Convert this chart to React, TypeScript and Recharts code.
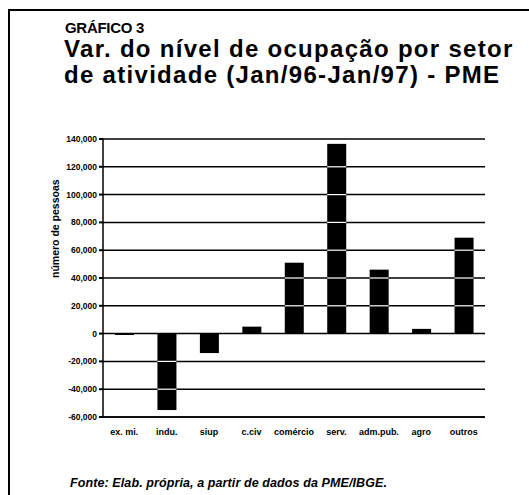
import React from 'react';
import { BarChart, Bar, XAxis, YAxis, CartesianGrid } from 'recharts';

// setores de atividade (eixo x)
const setores = ['ex. mi.', 'indu.', 'siup', 'c.civ', 'comércio', 'serv.', 'adm.pub.', 'agro', 'outros'];
// variação do nível de ocupação, Jan/96-Jan/97
const variacao = [-1000, -55000, -14000, 5000, 51000, 136500, 46000, 3400, 69000];
const yTicks = [-60000, -40000, -20000, 0, 20000, 40000, 60000, 80000, 100000, 120000, 140000];

const data = setores.map((s, i) => ({ setor: s, valor: variacao[i] }));

const font = '"Liberation Sans", Arial, sans-serif';

const lerValor = (props: any): number => {
    if (props.payload && typeof props.payload.valor === 'number') return props.payload.valor;
    if (Array.isArray(props.value)) return props.value[1] - props.value[0];
    if (typeof props.value === 'number') return props.value;
    if (typeof props.valor === 'number') return props.valor;
    if (typeof props.index === 'number') return variacao[props.index];
    return 0;
};

// barra preta com as linhas da grade passando em branco por cima
const BarraComGrade = (props: any) => {
    const x = Number(props.x);
    const y = Number(props.y);
    const width = Number(props.width);
    const height = Number(props.height);
    const valor = lerValor(props);
    const top = Math.min(y, y + height);
    const h = Math.abs(height || 0);
    if (!h || !valor) return <rect x={x} y={top} width={width} height={h} fill="#000" />;
    const pxPorUnidade = h / Math.abs(valor);
    const zeroY = valor > 0 ? top + h : top;
    const linhas = yTicks.filter((t) => t !== 0 && (valor > 0 ? t > 0 && t < valor : t < 0 && t > valor));
    return (
        <g>
            <rect x={x} y={top} width={width} height={h} fill="#000" />
            {linhas.map((t) => {
                const ly = zeroY - t * pxPorUnidade;
                return <line key={t} x1={x} x2={x + width} y1={ly} y2={ly} stroke="#fff" strokeWidth={1.2} />;
            })}
        </g>
    );
};

const App: React.FC = () => {
    return (
        <div style={{ position: 'absolute', left: 0, top: 0, width: 529, height: 495, background: '#fff', fontFamily: font, overflow: 'hidden' }}>
            {/* moldura */}
            <div style={{ position: 'absolute', left: 8, top: 9, width: 540, height: 500, borderTop: '2px solid #000', borderLeft: '2px solid #000' }} />

            <div style={{ position: 'absolute', left: 65, top: 20, fontSize: 15, lineHeight: '15px', fontWeight: 700, letterSpacing: -0.3 }}>
                GRÁFICO 3
            </div>
            <div style={{ position: 'absolute', left: 64, top: 36, fontSize: 24, lineHeight: '26px', fontWeight: 700, letterSpacing: 1.3, whiteSpace: 'nowrap' }}>
                Var. do nível de ocupação por setor<br />
                de atividade (Jan/96-Jan/97) - PME
            </div>

            <div style={{ position: 'absolute', left: 0, top: 0 }}>
                <BarChart
                    width={529}
                    height={495}
                    data={data}
                    margin={{ top: 139, right: 44, bottom: 58, left: 53 }}
                >
                    <CartesianGrid vertical={false} stroke="#000" strokeWidth={1.5} />
                    <XAxis
                        dataKey="setor"
                        height={20}
                        tickLine={false}
                        axisLine={{ stroke: '#000', strokeWidth: 1.5 }}
                        tick={{ fontSize: 9, fontWeight: 700, fill: '#000', fontFamily: font }}
                        interval={0}
                        tickMargin={6}
                    />
                    <YAxis
                        width={50}
                        domain={[-60000, 140000]}
                        ticks={yTicks}
                        tickSize={4}
                        tickMargin={2}
                        interval={0}
                        tickFormatter={(v: number) => v.toLocaleString('en-US')}
                        axisLine={{ stroke: '#000', strokeWidth: 1.5 }}
                        tickLine={{ stroke: '#000', strokeWidth: 2 }}
                        tick={{ fontSize: 8.5, fontWeight: 700, fill: '#000', fontFamily: font }}
                        label={{ value: 'número de pessoas', angle: -90, position: 'insideLeft', offset: 2, style: { fontSize: 10.5, fontWeight: 700, fill: '#000', fontFamily: font } }}
                    />
                    <YAxis
                        yAxisId="borda"
                        orientation="right"
                        width={0}
                        domain={[-60000, 140000]}
                        tick={false}
                        tickLine={false}
                        axisLine={{ stroke: '#000', strokeWidth: 1.5 }}
                    />
                    <Bar dataKey="valor" fill="#000" barSize={19} isAnimationActive={false} shape={(p: any) => <BarraComGrade {...p} />} />
                </BarChart>
            </div>

            <div style={{ position: 'absolute', left: 70, top: 476, fontSize: 12.5, fontStyle: 'italic', fontWeight: 700, letterSpacing: 0.1, whiteSpace: 'nowrap' }}>
                Fonte: Elab. própria, a partir de dados da PME/IBGE.
            </div>
        </div>
    );
};

export default App;
